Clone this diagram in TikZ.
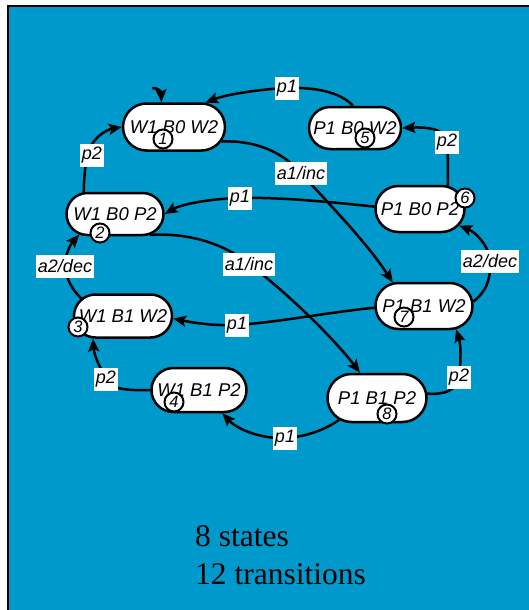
\documentclass[tikz,border=0pt]{standalone}
\usepackage{fontspec}
\setmainfont{Liberation Serif}
\newfontfamily\lsans{Liberation Sans}
\usetikzlibrary{arrows.meta,shapes.misc}
\definecolor{bg}{RGB}{0,153,204}
\begin{document}
\begin{tikzpicture}[x=1pt,y=-1pt,
  state/.style={rounded rectangle, draw=black, line width=2.5pt, fill=white, inner sep=0pt,
    minimum width=97pt, minimum height=45pt, font=\lsans\itshape\fontsize{18.5}{20}\selectfont},
  num/.style={circle, draw=black, line width=2pt, fill=white, inner sep=0pt,
    minimum size=19pt, font=\lsans\itshape\fontsize{16.5}{17}\selectfont},
  edge/.style={line width=2.5pt, -{Stealth[length=13pt,width=11pt,inset=2.5pt]}},
  lab/.style={fill=white, inner xsep=2pt, inner ysep=0pt, minimum height=23pt,
    font=\lsans\itshape\fontsize{18}{20}\selectfont},
  bigtext/.style={anchor=base west, inner sep=0pt, font=\fontsize{31.5}{38}\selectfont}
]
\path[use as bounding box] (0,0) rectangle (529,610);
\begin{scope}
  \clip (0,0) rectangle (529,610);
  \fill[bg] (8,6) rectangle (540,620);
  \draw[line width=1.5pt] (8,620) -- (8,6) -- (540,6);
\end{scope}

% states
\node[state, minimum width=102pt, minimum height=47pt] (n1) at (174,127) {W1 B0 W2};
\node[state, minimum width=97pt, minimum height=42pt] (n2) at (115,214) {W1 B0 P2};
\node[state, minimum width=98pt, minimum height=43pt] (n3) at (123,316) {W1 B1 W2};
\node[state, minimum width=95pt, minimum height=44pt] (n4) at (199,390) {W1 B1 P2};
\node[state, minimum width=92pt, minimum height=42pt] (n5) at (355,128) {P1 B0 W2};
\node[state, minimum width=89pt, minimum height=46pt] (n6) at (420,209) {P1 B0 P2};
\node[state, minimum width=97pt, minimum height=46pt] (n7) at (424,306) {P1 B1 W2};
\node[state, minimum width=99pt, minimum height=48pt] (n8) at (377,398) {P1 B1 P2};

% label positions
\coordinate (c1) at (287,88);
\coordinate (c2) at (447,142);
\coordinate (c3) at (490,261);
\coordinate (c4) at (459,377);
\coordinate (c5) at (285,438);
\coordinate (c6) at (106,379);
\coordinate (c7) at (65,266);
\coordinate (c8) at (92,155);
\coordinate (c9) at (301,173);
\coordinate (c10) at (249,264);
\coordinate (c11) at (240,198);
\coordinate (c12) at (237,325);
\coordinate (init) at (152,88);

% transitions
\draw[edge] (init) .. controls (158,88) and (161,91) .. (n1.117);
\draw[edge] (n5.95) .. controls (340,92) and (315,87) .. (c1) .. controls (262,89) and (228,94) .. (n1.38);
\draw[edge] (n6.40) .. controls (448,170) and (448,155) .. (c2) .. controls (446,128) and (425,127) .. (n5.east);
\draw[edge] (n7.5) .. controls (485,292) and (491,282) .. (c3) .. controls (489,245) and (475,232) .. (n6.-23);
\draw[edge] (n8.5) .. controls (445,395) and (457,390) .. (c4) .. controls (461,360) and (461,345) .. (n7.-36);
\draw[edge] (n8.210) .. controls (325,430) and (305,437) .. (c5) .. controls (262,439) and (238,430) .. (n4.-45);
\draw[edge] (n4.180) .. controls (125,391) and (108,388) .. (c6) .. controls (100,368) and (94,355) .. (n3.217);
\draw[edge] (n3.157) .. controls (72,290) and (66,278) .. (c7) .. controls (65,255) and (70,245) .. (n2.210);
\draw[edge] (n2.145) .. controls (84,178) and (85,165) .. (88,155) .. controls (90,140) and (105,130) .. (n1.west);
\draw[edge] (n1.-17) .. controls (260,140) and (285,155) .. (c9) .. controls (325,200) and (365,240) .. (n7.143);
\draw[edge] (n2.-31) .. controls (195,232) and (230,248) .. (c10) .. controls (290,295) and (335,340) .. (n8.124);
\draw[edge] (n6.177) .. controls (330,202) and (280,197) .. (c11) .. controls (205,199) and (180,205) .. (n2.east);
\draw[edge] (n7.182) .. controls (330,312) and (280,322) .. (c12) .. controls (210,326) and (190,322) .. (n3.-3);

% labels
\node[lab] (l1) at (c1) {p1};
\node[lab] (l2) at (c2) {p2};
\node[lab] (l3) at (c3) {a2/dec};
\node[lab] (l4) at (c4) {p2};
\node[lab] (l5) at (c5) {p1};
\node[lab] (l6) at (c6) {p2};
\node[lab] (l7) at (c7) {a2/dec};
\node[lab] (l8) at (c8) {p2};
\node[lab] (l9) at (c9) {a1/inc};
\node[lab] (l10) at (c10) {a1/inc};
\node[lab] (l11) at (c11) {p1};
\node[lab] (l12) at (c12) {p1};

% state numbers
\node[num] (k1) at (163,139) {1};
\node[num] (k2) at (100,233) {2};
\node[num] (k3) at (78,327) {3};
\node[num] (k4) at (174,402) {4};
\node[num] (k5) at (365,138) {5};
\node[num] (k6) at (465,198) {6};
\node[num] (k7) at (404,317) {7};
\node[num] (k8) at (387,414) {8};

% caption
\node[bigtext] (t1) at (195,546) {8 states};
\node[bigtext] (t2) at (195,584) {12 transitions};
\end{tikzpicture}
\end{document}
